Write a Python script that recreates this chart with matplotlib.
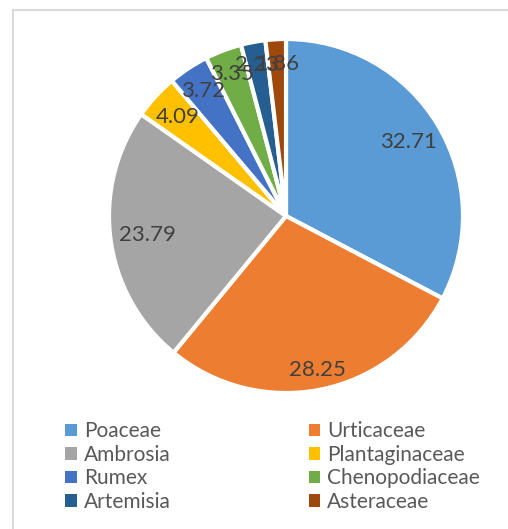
import matplotlib
matplotlib.use("Agg")
import matplotlib.pyplot as plt
import numpy as np
from matplotlib.patches import Patch
from matplotlib.lines import Line2D

plt.rcParams['font.family'] = ['Lato', 'DejaVu Sans']

families = ["Poaceae", "Urticaceae", "Ambrosia", "Plantaginaceae",
            "Rumex", "Chenopodiaceae", "Artemisia", "Asteraceae"]
shares = [32.71, 28.25, 23.79, 4.09, 3.72, 3.35, 2.23, 1.86]
colors = ["#5B9BD5", "#ED7D31", "#A5A5A5", "#FFC000",
          "#4472C4", "#70AD47", "#255E91", "#9E480E"]
# radial position of each value label (fraction of radius)
label_dist = [0.81, 0.89, 0.79, 0.83, 0.85, 0.86, 0.87, 0.86]

W, H = 508, 529
fig = plt.figure(figsize=(W / 100, H / 100), dpi=100)

# pie centre ~ (286, 216) px, radius ~177 px
cx, cy, r = 286, 216, 177
ax = fig.add_axes([(cx - r) / W, (H - cy - r) / H, 2 * r / W, 2 * r / H])
wedges, texts, autotexts = ax.pie(
    shares, colors=colors, startangle=90, counterclock=False,
    autopct=lambda p: f"{p:.2f}", pctdistance=0.84,
    wedgeprops=dict(edgecolor="white", linewidth=3),
    textprops=dict(color="#404040", fontsize=16))
for w, t, d in zip(wedges, autotexts, label_dist):
    ang = np.deg2rad((w.theta1 + w.theta2) / 2)
    t.set_position((d * np.cos(ang), d * np.sin(ang)))
ax.set_xlim(-1, 1)
ax.set_ylim(-1, 1)
ax.set_aspect("equal")

# chart border (left and top edges visible)
fig.add_artist(Line2D([13 / W, 13 / W], [0, 1 - 10 / H], color="#D9D9D9", lw=1.5))
fig.add_artist(Line2D([13 / W, 1], [1 - 10 / H, 1 - 10 / H], color="#D9D9D9", lw=1.5))

# legend: rows go left-to-right, so order handles column by column
order = [0, 2, 4, 6, 1, 3, 5, 7]
handles = [Patch(facecolor=colors[i], edgecolor="none") for i in order]
labels = [families[i] for i in order]
fig.legend(handles, labels, ncol=2, loc="upper left",
           bbox_to_anchor=(55 / W, 1 - 411 / H), frameon=False,
           fontsize=15, labelcolor="#595959",
           handlelength=0.55, handleheight=0.55, handletextpad=0.35,
           columnspacing=6.6, labelspacing=0.17, borderpad=0)

fig.savefig("out.png", dpi=100)
